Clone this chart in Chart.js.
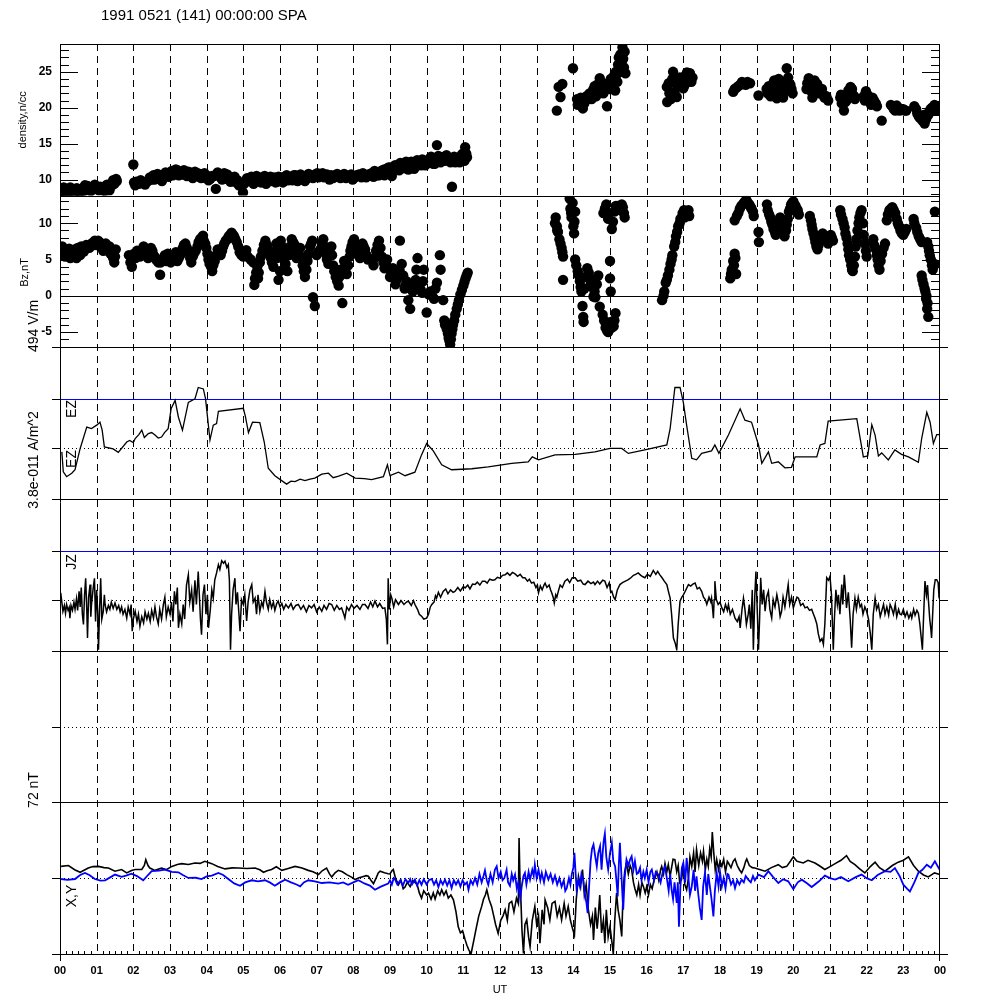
<!DOCTYPE html>
<html>
<head>
<meta charset="utf-8">
<script src="https://cdn.jsdelivr.net/npm/chart.js@4.4.1/dist/chart.umd.min.js"></script>
<style>
  html, body { margin: 0; padding: 0; background: #fff; }
  #wrap { width: 1000px; height: 1000px; }
</style>
</head>
<body>
<div id="wrap"><canvas id="spa" width="1000" height="1000"></canvas></div>
<script>
// Hour tick labels (UT) and panel tick values
var hourLabels = ['00','01','02','03','04','05','06','07','08','09','10','11','12',
                  '13','14','15','16','17','18','19','20','21','22','23','00'];
var densTicks = [10, 15, 20, 25];
var bzTicks = [-5, 0, 5, 10];

// density, n/cc (scatter)
var densHours = [0.05,0.10,0.15,0.20,0.28,0.35,0.42,0.50,0.55,0.62,0.68,0.75,0.80,0.88,0.95,1.02,1.10,1.18,1.25,1.32,1.38,1.45,1.50,1.55,
  2.00,2.02,2.08,2.15,2.25,2.32,2.40,2.50,2.55,2.62,2.70,2.78,2.85,2.92,3.00,3.05,3.12,3.20,3.28,3.35,3.42,3.50,3.58,3.65,3.72,3.80,3.90,3.98,4.05,4.15,4.25,4.30,4.38,4.45,4.52,4.60,4.65,4.72,4.80,4.88,4.99,5.05,5.10,5.18,5.25,5.32,5.40,5.48,5.55,5.62,5.70,5.78,5.85,5.92,
  6.00,6.08,6.15,6.22,6.30,6.38,6.45,6.52,6.60,6.68,6.75,6.82,6.90,6.98,7.05,7.12,7.20,7.28,7.35,7.45,7.52,7.60,7.70,7.80,7.90,7.98,8.05,8.15,8.22,8.30,8.40,8.50,8.58,8.65,8.72,8.80,8.85,8.92,
  9.00,9.05,9.10,9.18,9.25,9.32,9.40,9.48,9.55,9.62,9.70,9.78,9.85,9.92,10.00,10.08,10.15,10.22,10.28,10.35,10.42,10.50,10.58,10.65,10.69,10.75,10.82,10.90,10.95,11.00,11.05,11.08,11.10,
  13.55,13.60,13.65,13.70,13.99,14.10,14.15,14.20,14.26,14.32,14.40,14.48,14.54,14.60,14.65,14.70,14.72,14.78,14.85,14.92,14.95,15.02,15.08,15.14,15.18,15.22,15.26,15.28,15.32,15.34,15.38,15.42,
  16.55,16.56,16.62,16.72,16.78,16.82,16.90,16.94,17.00,17.06,17.12,17.18,17.25,
  18.36,18.45,18.55,18.65,18.75,18.82,19.05,19.27,19.33,19.38,19.45,19.50,19.55,19.60,19.65,19.72,19.78,19.82,19.86,19.92,19.98,
  20.38,20.42,20.48,20.52,20.58,20.62,20.70,20.78,20.85,20.95,21.28,21.32,21.38,21.45,21.50,21.56,21.62,21.68,21.92,21.98,
  22.05,22.12,22.20,22.28,22.41,22.66,22.74,22.82,22.90,23.00,23.08,23.30,23.38,23.45,23.52,23.58,23.64,23.70,23.78,23.85,23.90,
  // second layer of the dense bands
  0.02,0.08,0.12,0.18,0.24,0.32,0.38,0.46,0.52,0.58,0.65,0.72,0.78,0.84,0.92,0.98,1.06,1.14,1.22,1.28,1.35,1.42,1.48,1.53,
  2.05,2.20,2.35,2.45,2.58,2.66,2.74,2.82,2.88,2.96,3.08,3.16,3.24,3.32,3.38,3.46,3.54,3.62,3.68,3.76,3.85,3.94,4.02,4.10,4.20,4.34,4.42,4.48,4.56,4.62,4.68,4.76,4.84,4.94,
  5.02,5.14,5.22,5.28,5.36,5.44,5.52,5.58,5.66,5.74,5.82,5.88,5.96,6.04,6.12,6.18,6.26,6.34,6.42,6.48,6.56,6.64,6.72,6.78,6.86,6.94,
  7.02,7.08,7.16,7.24,7.32,7.40,7.50,7.56,7.65,7.75,7.85,7.94,8.02,8.10,8.18,8.26,8.35,8.45,8.55,8.62,8.70,8.76,8.84,8.90,8.96,
  9.02,9.08,9.14,9.22,9.28,9.36,9.44,9.50,9.58,9.66,9.74,9.80,9.88,9.96,10.04,10.12,10.18,10.26,10.32,10.38,10.46,10.54,10.62,10.72,10.78,10.86,10.98,11.03,
  14.12,14.22,14.30,14.36,14.44,14.50,14.58,14.62,14.68,14.75,14.82,14.88,14.98,15.05,15.10,15.16,15.20,15.24,15.30,15.36,15.40,
  16.60,16.66,16.70,16.76,16.86,16.98,17.04,17.10,17.16,17.22,
  18.40,18.50,18.60,18.70,19.30,19.42,19.48,19.58,19.68,19.75,19.88,19.95,20.36,20.45,20.50,20.56,20.65,20.74,20.82,20.90,
  21.30,21.42,21.48,21.54,21.60,21.66,21.95,22.02,22.10,22.16,22.25,22.70,22.78,22.86,22.95,23.04,
  23.35,23.42,23.50,23.56,23.62,23.68,23.74,23.82,23.88];
var densValues = [8.4,8.9,8.2,8.6,8.9,8.3,8.7,8.5,8.2,8.8,9.2,9.1,8.6,8.9,9.3,8.7,9.0,8.5,9.1,8.8,9.4,9.9,9.6,9.8,
  12.1,9.6,9.7,9.4,9.6,9.3,9.8,10.0,10.6,10.3,10.1,9.8,10.6,10.9,10.8,11.2,11.0,11.3,11.0,10.7,10.9,11.1,10.5,10.8,10.6,10.4,10.7,10.2,9.9,10.5,8.7,11.0,10.3,10.6,10.4,10.0,9.7,10.1,9.6,9.2,8.2,9.7,10.2,10.0,9.7,10.3,10.0,9.6,10.2,9.4,10.1,9.8,10.3,9.7,
  10.0,9.6,10.4,9.9,10.3,10.6,10.1,10.4,10.2,9.8,10.4,10.6,10.2,10.8,10.3,10.6,10.3,10.7,10.0,10.2,10.6,10.4,10.5,10.2,10.5,10.0,10.4,10.7,10.3,10.6,10.5,10.9,11.2,10.6,11.0,11.3,10.6,11.5,
  11.2,10.5,11.5,11.8,11.3,12.0,11.6,12.2,11.8,12.2,11.8,12.4,12.0,12.6,12.2,12.9,12.5,12.2,14.8,12.8,13.1,12.6,13.0,12.4,9.0,13.2,12.6,12.4,13.4,12.8,14.5,13.6,13.1,
  19.6,22.9,21.5,23.3,25.5,21.2,20.6,21.4,19.9,21.0,21.3,21.8,22.5,22.2,23.2,22.6,24.1,23.0,22.8,20.2,23.4,24.0,23.6,22.4,24.6,26.0,25.2,27.4,26.5,28.4,25.6,24.8,
  22.9,20.8,22.0,25.0,23.4,21.5,24.2,23.8,22.7,24.5,23.6,24.8,24.2,
  22.2,22.8,23.2,23.4,23.6,23.4,21.7,22.6,23.0,21.6,23.4,22.4,21.3,24.0,22.8,21.4,23.6,25.5,24.2,23.2,22.0,
  23.4,24.1,22.6,21.4,23.8,22.8,22.0,22.6,21.4,21.0,21.4,20.6,19.6,21.0,22.4,22.9,21.8,21.2,21.6,22.3,
  21.2,20.4,21.0,20.2,18.2,20.4,19.8,20.3,19.6,19.8,19.6,20.2,19.2,18.6,18.2,17.8,18.8,19.4,20.0,20.4,19.6,
  8.0,8.5,8.1,8.7,8.3,8.6,8.0,8.8,8.3,8.6,8.4,8.7,9.0,8.4,8.8,9.0,8.5,8.8,8.4,9.3,8.5,9.2,9.4,10.1,
  9.2,9.9,9.7,10.3,10.0,10.8,10.5,10.4,11.0,10.4,10.6,11.4,10.6,10.8,11.3,10.5,11.0,10.2,11.1,10.9,10.2,10.9,10.5,10.1,10.5,10.6,10.0,10.9,10.7,10.3,9.9,10.4,9.9,9.5,
  9.4,9.8,10.4,9.4,10.5,10.3,9.9,10.5,9.8,10.4,10.0,9.6,10.4,10.3,9.9,10.6,10.1,9.9,10.6,9.8,10.7,10.0,10.1,10.8,10.4,10.5,
  10.9,10.5,10.9,10.5,10.3,10.6,10.4,10.8,10.2,10.8,10.4,10.7,10.2,10.6,10.5,10.9,10.3,10.8,10.4,11.0,10.6,11.2,11.4,10.9,11.7,
  11.7,11.2,12.0,11.6,12.3,11.6,12.5,11.4,12.5,11.5,12.7,12.2,12.8,12.0,12.6,13.2,12.2,12.6,13.3,12.4,12.8,13.4,12.8,12.9,12.4,13.0,13.6,12.6,
  20.4,21.0,20.6,21.6,22.0,21.2,23.0,21.6,22.4,23.6,22.0,23.2,22.6,23.0,24.4,25.0,23.6,27.0,25.0,26.8,27.8,
  23.4,21.2,24.0,22.2,23.0,24.0,23.2,24.9,24.0,23.6,
  22.6,23.0,23.6,23.2,22.0,22.8,23.8,22.2,23.2,22.2,23.0,22.6,22.6,23.6,22.2,23.0,23.3,22.4,21.8,21.6,
  21.8,20.8,21.6,22.2,22.6,21.6,21.0,21.8,20.8,21.4,20.6,20.2,19.6,20.0,19.8,19.6,
  19.8,18.8,18.6,19.0,18.4,19.0,19.8,19.6,20.2];

// Bz, nT (scatter)
var bzHours = [0.03,0.10,0.18,0.25,0.32,0.40,0.45,0.52,0.58,0.65,0.72,0.80,0.88,0.95,1.00,1.08,1.15,1.20,1.28,1.35,1.42,1.48,1.52,
  1.88,1.92,1.96,2.02,2.10,2.18,2.25,2.32,2.40,2.48,2.55,2.62,2.73,2.75,2.82,2.90,2.98,3.05,3.12,3.20,3.28,3.35,3.42,3.50,3.58,3.65,3.75,3.82,3.90,3.96,
  4.02,4.08,4.15,4.22,4.30,4.38,4.45,4.52,4.60,4.68,4.75,4.82,4.90,5.00,5.08,5.27,5.30,5.35,5.40,5.45,5.52,5.60,5.68,5.75,5.82,5.90,5.96,6.00,
  6.02,6.08,6.15,6.20,6.25,6.32,6.40,6.45,6.55,6.62,6.68,6.75,6.82,6.88,6.90,6.95,7.00,7.10,7.18,7.25,7.32,7.40,7.45,7.52,7.60,7.65,7.70,7.75,7.82,7.90,7.95,
  8.02,8.10,8.18,8.25,8.32,8.40,8.55,8.62,8.70,8.78,8.85,8.92,9.00,9.08,9.15,9.22,9.27,9.32,9.40,9.45,9.50,9.55,9.62,9.70,9.75,9.80,9.88,9.92,
  10.00,10.10,10.20,10.28,10.36,10.38,10.45,10.48,10.55,10.60,10.64,10.68,10.72,10.78,10.85,10.92,11.00,11.06,11.12,
  13.52,13.55,13.58,13.65,13.70,13.72,13.72,13.90,13.92,13.95,14.00,14.02,14.05,14.05,14.12,14.18,14.22,14.25,14.27,14.30,14.38,14.45,14.52,14.55,14.60,14.68,
  14.80,14.82,14.88,14.90,14.95,14.95,15.00,15.00,15.02,15.02,15.05,15.10,15.12,15.15,15.20,15.28,15.35,15.40,
  16.42,16.48,16.52,16.58,16.65,16.70,16.75,16.80,16.86,16.92,16.98,17.04,17.10,17.16,
  18.28,18.32,18.36,18.40,18.44,18.40,18.50,18.58,18.65,18.72,18.80,18.86,18.92,19.05,19.06,
  19.28,19.34,19.40,19.46,19.52,19.58,19.64,19.70,19.76,19.82,19.88,19.94,20.00,20.06,20.12,
  20.45,20.50,20.55,20.60,20.66,20.72,20.80,20.88,20.95,21.02,21.08,
  21.28,21.34,21.40,21.45,21.50,21.55,21.60,21.65,21.70,21.75,21.80,21.86,21.92,21.98,
  22.18,22.25,22.30,22.35,22.42,22.50,22.55,22.62,22.70,22.78,22.85,22.92,23.00,23.08,
  23.28,23.35,23.42,23.50,23.65,23.70,23.75,23.80,23.85,23.50,23.55,23.60,23.62,23.65,23.68,23.86,
  // second layer of the dense bands
  0.06,0.14,0.22,0.28,0.36,0.48,0.55,0.62,0.68,0.76,0.84,0.92,1.04,1.12,1.18,1.25,1.32,1.38,1.45,1.50,
  2.06,2.14,2.22,2.28,2.36,2.44,2.52,2.58,2.68,2.86,2.94,3.02,3.10,3.16,3.24,3.32,3.38,3.46,3.55,3.62,3.70,3.78,3.86,3.92,3.99,
  4.05,4.12,4.18,4.26,4.34,4.42,4.48,4.56,4.64,4.72,4.78,4.86,4.95,5.04,5.12,5.20,5.32,5.38,5.42,5.48,5.56,5.64,5.72,5.78,5.86,5.92,
  6.05,6.12,6.28,6.36,6.42,6.50,6.58,6.65,6.72,6.78,6.85,7.04,7.14,7.22,7.28,7.36,7.42,7.48,7.56,7.62,7.78,7.86,7.92,7.98,
  8.06,8.14,8.22,8.28,8.36,8.58,8.66,8.74,8.82,8.88,8.96,9.04,9.12,9.18,9.26,9.36,9.42,9.66,9.72,9.84,9.90,
  10.05,10.15,10.24,10.50,10.58,10.62,10.66,10.70,10.75,10.82,10.88,10.96,11.03,11.09,
  13.50,13.56,13.62,13.68,13.94,13.98,14.03,14.08,14.15,14.20,14.28,14.34,14.42,14.48,14.58,14.64,14.72,14.84,14.86,14.92,14.98,15.04,15.08,15.16,15.24,15.32,15.38,15.12,
  16.46,16.55,16.62,16.68,16.78,16.83,16.90,16.96,17.02,17.08,17.14,
  18.30,18.38,18.42,18.46,18.54,18.62,18.68,18.76,18.84,18.90,
  19.30,19.37,19.43,19.50,19.55,19.62,19.67,19.73,19.80,19.85,19.91,19.97,20.03,20.09,20.15,
  20.48,20.52,20.58,20.63,20.69,20.76,20.84,20.92,20.98,21.05,
  21.30,21.37,21.42,21.48,21.52,21.58,21.62,21.68,21.72,21.78,21.83,21.90,21.95,22.00,
  22.20,22.28,22.32,22.38,22.46,22.58,22.66,22.74,22.82,22.88,22.96,23.04,
  23.30,23.38,23.46,23.68,23.72,23.78,23.82,23.52,23.58,23.63,23.66];
var bzValues = [5.8,6.3,5.6,6.5,5.9,6.4,5.2,6.2,6.8,6.1,7.0,6.6,7.3,7.6,7.0,7.4,6.6,6.9,6.3,6.8,5.6,4.6,6.4,
  5.6,4.6,4.0,5.8,6.2,5.4,6.4,6.0,5.2,6.6,5.6,5.0,2.9,4.6,5.2,4.8,5.4,5.0,5.6,4.8,5.6,6.6,7.2,6.0,4.6,5.8,6.8,7.8,8.3,7.2,
  5.8,4.4,3.4,4.8,6.4,5.6,6.8,7.6,8.2,8.7,8.2,7.4,6.0,5.4,6.3,4.6,1.5,3.2,2.4,4.6,6.2,7.6,6.4,5.2,4.0,7.2,2.2,3.4,
  7.6,6.0,4.4,3.4,5.6,7.8,7.0,5.2,6.6,4.2,2.6,4.8,6.8,7.6,-0.2,-1.4,5.6,6.4,7.8,5.8,4.4,6.8,4.2,2.6,1.4,3.6,-1.0,4.8,3.0,5.4,6.8,
  7.8,6.0,5.2,7.2,6.4,5.0,4.2,6.2,7.6,5.4,3.8,5.0,2.6,3.8,1.6,2.8,7.6,4.4,1.0,2.0,-0.6,-1.8,0.6,2.2,5.2,1.2,0.4,3.6,
  -2.3,0.6,-0.4,1.8,5.6,3.6,-0.6,-3.4,-4.6,-5.8,-6.7,-5.2,-4.0,-2.6,-1.2,0.2,1.4,2.4,3.2,
  10.8,9.6,8.8,7.2,6.0,5.4,2.2,13.4,12.0,10.8,9.6,8.6,11.6,5.0,3.4,2.0,0.6,-1.4,-2.9,1.0,3.8,2.4,1.2,-0.1,-0.2,2.8,
  -2.6,11.4,-4.4,12.6,-5.0,10.6,4.8,2.4,0.6,-3.6,9.2,-4.2,11.6,-2.4,12.4,11.8,12.2,10.8,
  -0.6,0.6,1.8,2.8,4.4,5.6,6.8,8.2,9.6,10.6,11.4,10.8,11.6,11.0,
  2.4,3.6,4.8,5.8,3.0,10.4,11.4,12.4,12.8,13.2,12.6,12.0,11.0,8.8,7.4,
  12.6,11.2,10.2,9.2,8.4,9.6,10.8,9.0,8.2,9.8,11.6,12.6,13.0,12.4,11.8,
  11.0,9.8,8.6,7.4,6.4,7.6,8.6,8.0,7.2,8.4,7.6,
  11.8,10.6,9.4,8.0,6.4,5.0,3.6,4.2,6.8,9.0,10.8,11.8,8.4,6.2,
  7.8,6.4,5.0,3.6,5.8,7.2,10.4,11.8,12.2,11.4,10.0,9.0,8.4,9.2,
  10.6,9.4,8.2,7.4,7.4,6.2,5.0,3.6,4.4,2.8,1.6,0.6,-0.4,-1.8,-2.9,11.6,
  6.8,5.4,6.0,5.2,6.0,6.6,5.6,6.6,6.4,6.8,7.0,7.0,7.6,7.0,6.2,7.2,6.2,5.8,5.2,5.4,
  5.2,5.8,5.8,6.8,5.6,6.0,6.2,5.4,4.6,5.6,5.8,4.6,5.2,6.0,5.2,6.2,7.0,6.6,5.2,5.4,6.2,7.4,8.0,7.6,6.6,
  5.0,4.0,4.2,5.6,6.0,6.2,7.2,7.8,8.4,8.4,7.8,6.8,5.6,6.0,5.4,5.0,2.4,4.0,3.2,5.4,7.0,7.0,5.8,4.6,6.0,5.2,
  6.8,5.2,6.8,7.4,6.2,5.8,5.4,3.4,3.6,5.8,7.2,6.0,7.2,6.8,5.0,5.6,5.6,3.4,2.0,2.6,4.0,4.2,6.2,7.4,
  7.0,5.6,6.2,6.8,5.6,5.2,7.0,6.6,4.6,4.4,3.8,3.2,2.8,2.2,3.6,2.8,1.4,1.4,3.6,0.8,2.0,
  0.2,0.0,1.0,-4.0,-5.2,-6.2,-6.0,-4.6,-3.4,-1.8,-0.6,0.8,1.9,2.8,
  10.0,9.0,7.8,6.6,11.4,12.8,10.2,4.2,2.8,1.2,-3.6,2.6,3.2,1.8,0.6,1.6,-1.5,-3.4,12.0,-4.8,11.4,-4.4,10.2,12.4,12.0,12.6,11.4,-3.4,
  0.0,2.2,3.6,5.0,7.4,8.8,10.0,10.8,11.8,11.2,11.8,
  3.0,4.2,5.2,11.0,12.0,12.6,13.0,12.8,12.2,11.6,
  11.8,10.8,9.8,8.8,9.0,10.2,10.0,8.6,9.0,10.6,12.0,12.8,12.6,12.0,11.2,
  10.4,9.2,8.0,6.8,7.0,8.2,8.2,7.6,7.8,8.0,
  11.2,10.0,8.6,7.2,5.6,4.2,3.4,5.4,7.8,10.0,11.4,10.0,7.2,5.4,
  7.0,5.6,4.2,4.8,6.6,11.2,12.0,11.8,10.6,9.6,8.6,8.8,
  10.0,8.8,7.8,6.8,5.6,4.2,4.0,2.2,1.0,0.0,-1.0];

// EZ (line), [UT hour, value]
var ezSamples = [[0.05,-0.07],[0.09,-0.47],[0.18,-0.57],[0.32,-0.50],[0.41,-0.43],[0.55,0.00],[0.73,0.43],[0.86,0.40],[1.00,0.47],[1.09,0.53],[1.15,0.37],[1.21,0.03],
  [1.45,-0.01],[1.59,-0.08],[1.82,0.13],[1.90,0.16],[2.00,0.12],[2.05,0.20],[2.15,0.28],[2.23,0.37],[2.30,0.22],[2.41,0.30],[2.50,0.32],[2.59,0.27],[2.68,0.21],[2.77,0.23],[2.85,0.32],[2.95,0.40],
  [3.03,0.80],[3.14,0.97],[3.23,0.63],[3.34,0.37],[3.50,0.93],[3.68,1.00],[3.77,1.23],[3.91,1.20],[3.97,1.00],[4.09,0.17],[4.18,0.47],[4.27,0.50],[4.32,0.75],[5.00,0.81],
  [5.06,0.63],[5.14,0.32],[5.25,0.53],[5.45,0.52],[5.57,0.13],[5.68,-0.40],[5.86,-0.55],[6.18,-0.72],[6.30,-0.66],[6.41,-0.67],[6.55,-0.62],[6.68,-0.65],[6.82,-0.62],[6.95,-0.60],
  [7.14,-0.52],[7.32,-0.50],[7.45,-0.59],[7.60,-0.56],[7.82,-0.50],[8.05,-0.60],[8.30,-0.61],[8.50,-0.63],[8.82,-0.57],[8.93,-0.33],[9.00,-0.55],[9.23,-0.48],[9.41,-0.55],[9.68,-0.48],
  [9.86,-0.13],[10.00,0.10],[10.18,-0.05],[10.41,-0.33],[10.68,-0.43],[11.23,-0.41],[11.68,-0.37],[12.32,-0.30],[12.77,-0.27],[12.88,-0.17],[13.05,-0.23],[13.50,-0.13],
  [14.05,-0.12],[14.59,-0.07],[15.00,0.00],[15.32,0.00],[15.50,-0.10],[15.95,-0.03],[16.55,0.07],[16.64,0.40],[16.77,1.23],[16.91,1.23],[17.00,0.93],[17.09,0.47],
  [17.23,-0.20],[17.36,-0.23],[17.50,-0.10],[17.77,-0.05],[17.86,0.07],[17.97,-0.10],[18.23,0.27],[18.55,0.80],[18.68,0.57],[18.86,0.53],[19.05,0.07],[19.14,-0.30],
  [19.32,-0.07],[19.41,-0.30],[19.59,-0.27],[19.77,-0.39],[19.95,-0.38],[20.05,-0.17],[20.32,-0.17],[20.64,-0.17],[20.73,0.07],[20.86,0.10],[20.95,0.55],[21.73,0.60],
  [21.91,-0.17],[22.03,-0.15],[22.14,0.48],[22.23,0.27],[22.32,-0.15],[22.41,-0.09],[22.59,-0.23],[22.77,-0.03],[22.95,-0.12],[23.14,-0.17],[23.41,-0.28],[23.50,0.20],
  [23.64,0.73],[23.73,0.53],[23.82,0.10],[23.91,0.28],[24.00,0.28]];

// JZ (line), [UT hour, value]
var jzSamples = [[0.02,0.14],[0.05,-0.05],[0.08,-0.24],[0.12,-0.12],[0.15,-0.28],[0.18,-0.10],[0.22,-0.22],[0.25,-0.16],[0.27,-0.38],[0.30,-0.12],[0.34,-0.22],[0.38,-0.05],
  [0.41,-0.20],[0.45,0.02],[0.48,-0.22],[0.52,0.17],[0.55,-0.15],[0.58,0.25],[0.61,-0.30],[0.64,-0.51],[0.67,0.10],[0.70,0.44],[0.73,-0.20],[0.75,-0.79],[0.78,0.05],
  [0.82,0.31],[0.84,-0.35],[0.86,-0.10],[0.90,0.20],[0.94,0.44],[0.97,-0.45],[1.00,0.20],[1.03,-0.30],[1.05,-1.03],[1.08,-0.20],[1.11,0.44],[1.14,-0.40],[1.18,-0.24],
  [1.21,0.10],[1.23,-0.10],[1.27,-0.25],[1.32,-0.12],[1.36,-0.20],[1.40,-0.05],[1.45,-0.18],[1.50,-0.07],[1.55,-0.20],[1.60,-0.12],[1.64,-0.25],[1.68,-0.15],[1.72,-0.30],
  [1.77,-0.20],[1.82,-0.38],[1.86,-0.15],[1.91,-0.30],[1.94,-0.10],[1.97,-0.65],[2.00,-0.40],[2.05,-0.24],[2.10,-0.45],[2.14,-0.30],[2.18,-0.55],[2.23,-0.35],[2.28,-0.48],
  [2.32,-0.25],[2.37,-0.40],[2.41,-0.28],[2.46,-0.45],[2.50,-0.22],[2.55,-0.38],[2.59,-0.15],[2.63,-0.35],[2.68,-0.50],[2.72,-0.20],[2.77,-0.40],[2.82,-0.10],[2.86,0.05],
  [2.90,-0.35],[2.95,-0.15],[3.00,-0.30],[3.04,-0.05],[3.08,-0.45],[3.12,0.17],[3.16,-0.10],[3.20,0.25],[3.23,-0.58],[3.27,-0.30],[3.32,-0.50],[3.36,-0.10],[3.40,-0.40],
  [3.45,0.30],[3.50,0.51],[3.54,-0.05],[3.59,0.20],[3.63,-0.25],[3.68,0.40],[3.72,-0.10],[3.77,0.58],[3.80,0.10],[3.83,-0.40],[3.86,-0.72],[3.90,0.10],[3.94,0.31],
  [3.98,-0.30],[4.02,0.10],[4.05,-0.58],[4.10,-0.20],[4.14,0.20],[4.18,0.03],[4.22,0.40],[4.27,0.55],[4.32,0.72],[4.36,0.62],[4.41,0.80],[4.46,0.75],[4.50,0.79],
  [4.55,0.66],[4.59,0.72],[4.62,0.40],[4.65,-1.03],[4.68,-0.30],[4.72,0.20],[4.77,0.44],[4.80,-0.10],[4.84,0.15],[4.88,-0.30],[4.91,-0.65],[4.95,0.00],[5.00,-0.10],
  [5.04,0.10],[5.09,-0.44],[5.13,-0.05],[5.18,0.20],[5.23,0.31],[5.27,-0.05],[5.32,0.03],[5.36,-0.30],[5.40,0.10],[5.45,-0.24],[5.50,-0.05],[5.54,-0.15],[5.59,0.17],
  [5.63,-0.05],[5.68,-0.20],[5.72,0.00],[5.77,-0.17],[5.82,-0.05],[5.86,-0.22],[5.91,-0.08],[5.95,-0.03],[6.00,-0.15],[6.05,-0.08],[6.10,-0.20],[6.16,-0.10],[6.23,-0.17],
  [6.30,-0.08],[6.36,-0.20],[6.43,-0.12],[6.50,-0.10],[6.57,-0.20],[6.64,-0.12],[6.72,-0.25],[6.79,-0.12],[6.86,-0.17],[6.93,-0.10],[7.00,-0.25],[7.07,-0.15],[7.14,-0.24],
  [7.20,-0.12],[7.27,-0.20],[7.34,-0.08],[7.41,-0.10],[7.48,-0.22],[7.55,-0.12],[7.62,-0.20],[7.68,-0.17],[7.74,-0.30],[7.77,-0.38],[7.82,-0.15],[7.88,-0.22],[7.95,-0.10],
  [8.02,-0.18],[8.10,-0.12],[8.18,-0.20],[8.25,-0.10],[8.32,-0.10],[8.40,-0.18],[8.47,-0.05],[8.53,-0.15],[8.59,-0.03],[8.66,-0.15],[8.72,-0.08],[8.80,-0.18],[8.86,-0.17],
  [8.90,-0.40],[8.93,-0.92],[8.95,0.44],[8.98,-0.20],[9.02,0.10],[9.05,0.03],[9.10,-0.15],[9.15,0.00],[9.23,-0.10],[9.30,-0.02],[9.38,-0.10],[9.45,-0.05],[9.50,-0.03],
  [9.58,-0.12],[9.64,-0.02],[9.68,-0.10],[9.75,-0.20],[9.80,-0.30],[9.86,-0.34],[9.92,-0.40],[10.00,-0.38],[10.05,-0.30],[10.10,-0.15],[10.14,-0.10],[10.20,-0.05],
  [10.24,0.08],[10.27,0.03],[10.32,0.15],[10.38,0.05],[10.45,0.17],[10.52,0.22],[10.58,0.12],[10.65,0.20],[10.72,0.15],[10.77,0.17],[10.85,0.25],[10.92,0.18],[11.00,0.27],
  [11.05,0.24],[11.12,0.30],[11.18,0.22],[11.25,0.32],[11.32,0.31],[11.38,0.36],[11.45,0.30],[11.52,0.38],[11.59,0.38],[11.65,0.34],[11.72,0.42],[11.80,0.40],[11.86,0.41],
  [11.93,0.46],[12.00,0.44],[12.07,0.50],[12.14,0.51],[12.20,0.55],[12.27,0.50],[12.34,0.56],[12.41,0.53],[12.48,0.48],[12.55,0.52],[12.62,0.45],[12.68,0.45],[12.75,0.38],
  [12.80,0.42],[12.86,0.34],[12.92,0.36],[12.98,0.25],[13.02,0.30],[13.05,0.14],[13.10,0.28],[13.15,0.20],[13.20,0.30],[13.23,0.34],[13.28,0.25],[13.34,0.30],[13.38,0.20],
  [13.41,0.14],[13.45,0.05],[13.48,-0.07],[13.52,0.10],[13.55,0.05],[13.59,0.17],[13.64,0.30],[13.70,0.25],[13.77,0.38],[13.84,0.42],[13.90,0.35],[13.97,0.45],[14.05,0.45],
  [14.12,0.38],[14.20,0.40],[14.27,0.32],[14.32,0.31],[14.40,0.38],[14.48,0.33],[14.55,0.36],[14.59,0.31],[14.66,0.38],[14.72,0.32],[14.80,0.40],[14.86,0.38],[14.92,0.25],
  [14.98,0.35],[15.02,0.15],[15.05,0.17],[15.10,0.05],[15.14,0.00],[15.20,0.20],[15.27,0.31],[15.34,0.35],[15.42,0.38],[15.50,0.41],[15.57,0.45],[15.64,0.50],[15.70,0.52],
  [15.77,0.55],[15.84,0.50],[15.90,0.47],[15.95,0.45],[16.02,0.52],[16.10,0.48],[16.18,0.60],[16.25,0.52],[16.30,0.58],[16.36,0.51],[16.42,0.45],[16.48,0.38],[16.55,0.31],
  [16.60,0.15],[16.64,0.03],[16.68,-0.30],[16.73,-0.79],[16.78,-0.90],[16.82,-1.03],[16.86,-0.50],[16.91,-0.03],[16.96,0.05],[17.00,0.10],[17.05,0.17],[17.10,0.25],
  [17.14,0.31],[17.20,0.28],[17.26,0.32],[17.32,0.34],[17.38,0.22],[17.44,0.25],[17.50,0.17],[17.55,0.05],[17.60,0.00],[17.64,-0.10],[17.70,0.05],[17.75,-0.05],
  [17.77,0.03],[17.80,-0.20],[17.82,-0.38],[17.84,0.00],[17.86,0.38],[17.90,0.00],[17.95,-0.10],[18.00,-0.05],[18.05,-0.17],[18.10,-0.25],[18.15,-0.10],[18.20,-0.22],
  [18.23,-0.10],[18.28,-0.30],[18.34,-0.20],[18.41,-0.38],[18.47,-0.45],[18.52,-0.35],[18.55,-0.58],[18.60,-0.20],[18.64,0.03],[18.68,-0.20],[18.72,-0.51],[18.77,-0.30],
  [18.80,-0.10],[18.84,-0.60],[18.88,0.20],[18.91,-1.03],[18.95,0.10],[18.98,0.58],[19.02,-0.30],[19.05,-1.03],[19.08,-0.40],[19.11,0.45],[19.15,-0.10],[19.19,0.20],
  [19.23,-0.24],[19.27,0.05],[19.32,0.17],[19.36,-0.20],[19.41,-0.38],[19.45,0.00],[19.50,-0.15],[19.55,0.10],[19.60,-0.10],[19.64,-0.35],[19.68,-0.24],[19.72,0.05],
  [19.77,-0.15],[19.82,0.10],[19.86,0.31],[19.90,-0.10],[19.95,0.05],[20.00,-0.17],[20.05,-0.05],[20.10,0.05],[20.14,0.03],[20.20,-0.12],[20.26,-0.08],[20.32,-0.17],
  [20.38,-0.15],[20.44,-0.22],[20.50,-0.20],[20.55,-0.30],[20.59,-0.38],[20.64,-0.50],[20.68,-0.70],[20.73,-0.86],[20.78,-0.80],[20.82,-0.92],[20.86,-0.50],[20.91,0.45],
  [20.96,0.40],[21.00,0.48],[21.04,0.10],[21.07,-0.60],[21.09,-1.03],[21.12,-0.40],[21.16,0.20],[21.20,-0.10],[21.23,0.10],[21.27,-0.30],[21.32,0.31],[21.35,-0.10],
  [21.39,0.51],[21.42,0.20],[21.45,-0.17],[21.50,0.15],[21.55,-0.40],[21.59,-0.99],[21.63,-0.30],[21.68,0.03],[21.72,-0.20],[21.77,0.05],[21.82,-0.15],[21.86,-0.10],
  [21.90,-0.30],[21.95,-0.15],[22.00,-0.24],[22.05,-0.40],[22.10,-0.70],[22.14,-1.03],[22.18,-0.30],[22.23,0.03],[22.27,-0.20],[22.32,-0.10],[22.37,-0.35],[22.41,-0.24],
  [22.46,-0.10],[22.50,-0.30],[22.55,-0.15],[22.60,-0.32],[22.64,-0.10],[22.68,-0.17],[22.73,-0.30],[22.78,-0.10],[22.82,-0.35],[22.87,-0.20],[22.91,-0.30],[22.95,-0.31],
  [23.00,-0.20],[23.05,-0.35],[23.10,-0.25],[23.15,-0.38],[23.20,-0.28],[23.23,-0.38],[23.28,-0.20],[23.32,-0.32],[23.37,-0.22],[23.41,-0.28],[23.45,-0.50],[23.49,-0.80],
  [23.52,-1.03],[23.55,-0.40],[23.59,0.38],[23.63,0.10],[23.66,0.30],[23.68,0.03],[23.72,-0.40],[23.75,-0.60],[23.77,-0.79],[23.80,-0.30],[23.83,0.20],[23.87,0.41],
  [23.91,0.41],[23.95,0.35],[23.97,0.10],[24.00,0.17]];

// X component, nT (black line), [UT hour, value]
var bxSamples = [[0.03,5.6],[0.23,6.0],[0.40,4.0],[0.55,2.8],[0.77,4.8],[0.90,5.5],[1.05,5.6],[1.20,5.0],[1.32,4.8],[1.50,3.3],[1.68,4.1],[1.82,2.5],[1.95,3.6],[2.05,4.1],
  [2.23,4.1],[2.30,6.0],[2.34,8.8],[2.40,6.0],[2.45,4.8],[2.59,3.7],[2.77,4.8],[2.90,4.0],[3.05,5.6],[3.20,6.5],[3.32,6.9],[3.50,6.5],[3.68,7.2],[3.82,7.0],[3.95,8.0],
  [4.14,6.9],[4.30,5.5],[4.50,4.4],[4.70,4.9],[4.86,4.8],[5.10,4.6],[5.32,4.8],[5.45,4.0],[5.55,2.8],[5.65,3.5],[5.77,4.1],[5.90,5.4],[6.05,3.7],[6.20,4.5],[6.41,5.6],
  [6.60,4.8],[6.77,3.7],[6.90,3.0],[7.05,1.7],[7.15,3.5],[7.27,4.8],[7.35,2.0],[7.41,0.6],[7.50,2.5],[7.59,3.7],[7.70,3.0],[7.82,1.7],[7.95,0.5],[8.05,-0.7],[8.15,0.2],
  [8.23,0.6],[8.35,1.2],[8.41,0.9],[8.48,-1.0],[8.55,-2.6],[8.62,0.0],[8.68,2.5],[8.73,3.3],[8.85,2.6],[8.95,2.1],[9.00,2.0],[9.05,3.5],[9.09,4.1],[9.15,0.0],[9.20,-2.0],
  [9.23,-3.1],[9.30,-1.0],[9.36,-5.0],[9.41,-4.2],[9.47,-2.0],[9.55,-4.0],[9.62,-1.0],[9.68,-2.0],[9.74,-3.0],[9.80,-7.0],[9.86,-9.5],[9.92,-6.0],[10.00,-8.0],[10.05,-7.1],
  [10.12,-10.0],[10.18,-7.0],[10.23,-9.9],[10.30,-6.0],[10.36,-8.0],[10.41,-5.5],[10.47,-8.0],[10.53,-6.0],[10.59,-9.5],[10.66,-8.0],[10.73,-10.3],[10.80,-16.0],[10.86,-23.0],
  [10.92,-26.0],[10.98,-25.0],[11.05,-29.3],[11.10,-32.0],[11.15,-34.0],[11.21,-36.0],[11.28,-30.0],[11.36,-23.0],[11.42,-18.0],[11.50,-13.4],[11.55,-10.0],[11.60,-8.0],
  [11.64,-5.5],[11.70,-10.0],[11.77,-13.4],[11.83,-18.0],[11.88,-22.0],[11.95,-26.2],[12.02,-20.0],[12.08,-18.0],[12.14,-15.0],[12.20,-20.0],[12.25,-12.0],[12.32,-11.0],
  [12.38,-16.0],[12.45,-9.5],[12.50,-12.0],[12.52,19.1],[12.55,-5.0],[12.57,-10.3],[12.60,-25.0],[12.64,-35.7],[12.68,-22.0],[12.73,-19.8],[12.78,-28.0],[12.82,-32.5],
  [12.88,-20.0],[12.95,-13.4],[13.00,-22.0],[13.05,-18.0],[13.09,-30.9],[13.15,-15.0],[13.20,-22.0],[13.23,-10.3],[13.30,-14.0],[13.36,-19.8],[13.42,-12.0],[13.50,-11.0],
  [13.56,-18.0],[13.62,-14.0],[13.68,-19.8],[13.75,-12.0],[13.80,-18.0],[13.86,-13.4],[13.92,-20.0],[13.98,-24.0],[14.03,-27.0],[14.08,-10.0],[14.14,0.9],[14.20,-4.0],
  [14.25,4.1],[14.30,-8.0],[14.35,-3.0],[14.41,-15.0],[14.47,-22.0],[14.52,-18.0],[14.55,-29.3],[14.60,-14.0],[14.65,-24.0],[14.68,-18.2],[14.72,-8.0],[14.77,-26.0],
  [14.82,-20.0],[14.86,-30.9],[14.90,-15.0],[14.95,-28.0],[15.00,-23.0],[15.05,-30.0],[15.09,-36.0],[15.13,-20.0],[15.18,-7.1],[15.22,-15.0],[15.27,-20.0],[15.32,-27.7],
  [15.36,-5.0],[15.40,3.0],[15.45,7.2],[15.50,2.0],[15.55,6.0],[15.59,4.1],[15.64,-2.0],[15.68,-5.0],[15.73,-7.9],[15.78,-3.0],[15.82,-8.0],[15.87,-2.0],[15.91,-3.9],
  [15.96,-7.0],[16.00,-4.0],[16.05,-7.9],[16.10,-3.0],[16.15,-5.0],[16.20,-1.0],[16.23,0.1],[16.28,3.0],[16.33,-1.0],[16.38,4.0],[16.41,5.6],[16.46,2.0],[16.50,7.0],
  [16.55,3.0],[16.59,6.4],[16.64,1.0],[16.68,5.0],[16.72,9.0],[16.77,8.8],[16.82,3.0],[16.86,6.0],[16.90,-2.0],[16.95,-0.7],[17.00,6.0],[17.04,-3.0],[17.09,-5.5],
  [17.14,0.0],[17.18,10.0],[17.23,5.6],[17.28,12.0],[17.32,3.0],[17.36,13.6],[17.42,6.0],[17.47,12.0],[17.52,8.0],[17.55,12.8],[17.60,4.0],[17.64,9.0],[17.68,5.6],
  [17.72,14.0],[17.76,10.0],[17.79,21.9],[17.83,12.0],[17.87,4.0],[17.91,8.8],[17.96,4.0],[18.00,8.0],[18.05,5.6],[18.10,9.0],[18.15,3.0],[18.20,8.0],[18.23,7.2],
  [18.30,5.0],[18.36,8.0],[18.41,9.1],[18.47,6.0],[18.53,4.0],[18.59,2.5],[18.65,5.0],[18.70,8.0],[18.73,9.1],[18.80,6.0],[18.88,5.0],[18.95,4.8],[19.10,4.0],[19.23,3.3],
  [19.40,5.0],[19.59,6.4],[19.70,5.0],[19.82,5.6],[19.92,8.0],[20.00,10.1],[20.10,8.0],[20.27,7.2],[20.40,8.5],[20.59,7.2],[20.70,6.0],[20.86,4.1],[21.00,5.5],[21.14,6.9],
  [21.30,8.5],[21.45,10.7],[21.55,8.0],[21.68,6.4],[21.80,4.5],[21.95,2.5],[22.10,5.5],[22.23,7.6],[22.35,5.0],[22.50,3.3],[22.70,6.0],[22.86,7.6],[23.00,8.5],[23.14,10.1],
  [23.28,6.0],[23.41,3.3],[23.55,1.5],[23.68,0.6],[23.85,2.5],[24.00,1.7]];

// Y component, nT (blue line), [UT hour, value]
var bySamples = [[0.03,-0.4],[0.20,-0.8],[0.41,-0.4],[0.55,1.5],[0.68,2.5],[0.80,1.5],[0.95,-0.4],[1.10,-1.2],[1.23,-1.0],[1.38,0.5],[1.50,1.7],[1.68,0.6],[1.80,1.2],
  [1.95,2.1],[2.10,1.0],[2.27,-1.0],[2.40,1.5],[2.50,3.3],[2.70,3.6],[2.86,4.1],[3.05,3.0],[3.23,2.8],[3.35,1.5],[3.50,0.1],[3.70,0.2],[3.86,-0.4],[4.00,0.8],[4.14,1.2],
  [4.32,2.5],[4.45,1.5],[4.59,-0.4],[4.75,-2.5],[4.91,-3.6],[5.05,-2.0],[5.23,-1.0],[5.40,-1.5],[5.59,-1.0],[5.72,-2.0],[5.86,-3.6],[6.00,-2.0],[6.14,-0.7],[6.30,-2.0],
  [6.45,-3.0],[6.55,-3.9],[6.65,-2.0],[6.77,-1.0],[6.95,-1.5],[7.14,-2.3],[7.35,-2.0],[7.59,-2.6],[7.72,-2.0],[7.86,-3.1],[8.00,-2.0],[8.14,-1.0],[8.30,-2.5],[8.45,-3.5],
  [8.59,-5.5],[8.75,-4.0],[8.95,-2.6],[9.00,-1.0],[9.05,-3.0],[9.10,0.0],[9.14,-0.7],[9.20,-3.0],[9.28,-1.0],[9.35,-3.5],[9.42,-0.5],[9.50,-2.3],[9.55,-0.5],[9.60,-3.0],
  [9.68,-0.7],[9.74,-3.5],[9.80,-1.0],[9.86,-3.1],[9.92,-0.5],[10.00,-3.0],[10.06,-1.0],[10.14,-0.4],[10.20,-3.0],[10.26,-1.0],[10.32,-4.2],[10.38,-1.0],[10.44,-3.0],
  [10.50,-0.7],[10.56,-3.5],[10.62,-1.0],[10.68,-4.7],[10.74,-1.0],[10.80,-3.0],[10.86,-1.0],[10.92,-4.0],[10.98,-1.0],[11.04,-3.0],[11.10,-2.0],[11.14,-5.5],[11.20,-1.0],
  [11.26,-3.0],[11.32,0.1],[11.38,-3.0],[11.44,2.0],[11.50,-2.0],[11.55,1.0],[11.59,3.7],[11.64,-1.0],[11.68,-3.1],[11.74,2.0],[11.80,-2.0],[11.86,4.0],[11.91,5.6],
  [11.96,0.0],[12.02,3.0],[12.07,-1.0],[12.12,0.1],[12.18,4.0],[12.22,-2.0],[12.27,-3.6],[12.32,2.0],[12.36,-1.0],[12.41,1.7],[12.46,-5.0],[12.50,-2.0],[12.55,-9.5],
  [12.60,-3.0],[12.64,1.0],[12.68,2.5],[12.72,-3.0],[12.78,3.0],[12.82,-0.7],[12.88,4.0],[12.92,1.0],[12.95,6.4],[13.00,0.0],[13.05,4.0],[13.10,-1.0],[13.14,2.5],
  [13.20,-2.0],[13.25,3.0],[13.32,-0.7],[13.38,2.0],[13.44,-2.0],[13.50,1.2],[13.56,-3.0],[13.62,0.0],[13.68,-4.0],[13.74,-1.0],[13.78,-6.0],[13.82,-4.7],[13.88,0.0],
  [13.92,-3.0],[13.96,2.0],[14.00,5.0],[14.03,12.0],[14.06,3.0],[14.09,-5.5],[14.14,-1.0],[14.18,-4.0],[14.22,2.0],[14.27,-0.7],[14.32,-8.0],[14.36,-12.0],[14.39,-16.6],
  [14.43,-4.0],[14.47,8.0],[14.51,14.0],[14.55,16.0],[14.60,10.0],[14.64,5.6],[14.68,12.0],[14.73,15.2],[14.77,4.0],[14.80,12.0],[14.83,18.0],[14.86,21.2],[14.90,10.0],
  [14.95,4.1],[15.00,12.0],[15.05,16.8],[15.09,8.0],[15.14,5.6],[15.18,-2.0],[15.21,-8.7],[15.24,6.0],[15.27,16.8],[15.31,2.0],[15.36,-15.0],[15.40,0.0],[15.45,8.8],
  [15.50,6.0],[15.55,9.0],[15.59,10.4],[15.64,4.0],[15.68,8.0],[15.73,2.0],[15.77,2.5],[15.82,5.0],[15.86,-1.0],[15.91,3.0],[15.95,0.1],[16.00,4.0],[16.05,-2.0],
  [16.10,3.0],[16.14,4.1],[16.20,-1.0],[16.25,3.0],[16.32,1.7],[16.38,-2.0],[16.44,3.0],[16.50,5.6],[16.55,0.0],[16.60,-6.0],[16.64,2.0],[16.68,-5.5],[16.72,-10.0],
  [16.76,-2.0],[16.82,-11.8],[16.85,-2.0],[16.88,-23.0],[16.92,-4.0],[16.96,5.0],[17.00,7.2],[17.05,-2.0],[17.09,9.6],[17.14,0.0],[17.18,-8.0],[17.23,-3.9],[17.28,4.0],
  [17.32,-6.0],[17.36,0.9],[17.41,-8.0],[17.45,-14.0],[17.50,-19.8],[17.54,-4.0],[17.59,2.5],[17.64,-8.0],[17.68,2.0],[17.73,-4.7],[17.77,-10.0],[17.82,-18.2],
  [17.86,-6.0],[17.91,2.5],[17.96,-4.0],[18.00,3.0],[18.05,-3.9],[18.10,0.0],[18.15,-5.0],[18.20,2.0],[18.23,1.7],[18.30,-3.0],[18.36,-1.0],[18.41,-4.7],[18.47,-1.0],
  [18.53,-3.0],[18.59,-0.7],[18.65,-2.0],[18.70,1.0],[18.77,-0.7],[18.84,-2.0],[18.90,1.0],[18.95,-1.0],[19.05,1.7],[19.20,0.5],[19.32,3.3],[19.45,0.5],[19.59,-2.3],
  [19.72,-0.5],[19.86,-1.5],[20.00,-5.2],[20.12,-2.0],[20.23,-0.7],[20.38,-2.5],[20.50,-4.2],[20.70,-1.5],[20.86,1.2],[21.00,0.0],[21.14,-0.7],[21.30,0.5],[21.50,-1.5],
  [21.70,0.5],[21.86,1.7],[22.00,0.0],[22.14,-1.0],[22.30,1.5],[22.50,3.3],[22.65,3.0],[22.77,4.8],[22.90,1.0],[23.00,-3.1],[23.10,-5.0],[23.18,-6.3],[23.30,-2.0],
  [23.41,2.5],[23.52,4.0],[23.64,6.4],[23.75,5.0],[23.86,8.0],[24.00,3.7]];

function toPoints(hours, values) {
  return hours.map(function (h, i) { return { x: h, y: values[i] }; });
}
function samplePoints(samples) {
  return samples.map(function (p) { return { x: p[0], y: p[1] }; })
                .sort(function (a, b) { return a.x - b.x; });
}

var FONT = '"Liberation Sans", Arial, Helvetica, sans-serif';

// draws frame, hour lines, reference lines, ticks and labels
var spaFrame = {
  id: 'spaFrame',
  beforeDatasetsDraw: function (chart) {
    var ctx = chart.ctx, a = chart.chartArea, s = chart.scales;
    ctx.save();
    ctx.lineWidth = 1;
    ctx.strokeStyle = '#000';
    ctx.setLineDash([7, 5]);
    for (var h = 1; h < 24; h++) {
      var px = Math.round(s.x.getPixelForValue(h)) + 0.5;
      ctx.beginPath(); ctx.moveTo(px, a.top); ctx.lineTo(px, a.bottom); ctx.stroke();
    }
    // dotted zero lines
    ctx.setLineDash([1, 3]);
    [['yEz', 0], ['yJz', 0], ['yNil', 0], ['yXY', 0]].forEach(function (r) {
      var py = Math.round(s[r[0]].getPixelForValue(r[1])) + 0.5;
      ctx.beginPath(); ctx.moveTo(a.left, py); ctx.lineTo(a.right, py); ctx.stroke();
    });
    ctx.setLineDash([]);
    // blue reference lines
    ctx.strokeStyle = '#0000ff';
    [['yEz', 1], ['yJz', 1]].forEach(function (r) {
      var py = Math.round(s[r[0]].getPixelForValue(r[1])) + 0.5;
      ctx.beginPath(); ctx.moveTo(a.left, py); ctx.lineTo(a.right, py); ctx.stroke();
    });
    // Bz zero line
    ctx.strokeStyle = '#000';
    var pz = Math.round(s.yBz.getPixelForValue(0)) + 0.5;
    ctx.beginPath(); ctx.moveTo(a.left, pz); ctx.lineTo(a.right, pz); ctx.stroke();
    ctx.restore();
  },
  beforeDatasetDraw: function (chart, args) {
    var ctx = chart.ctx, a = chart.chartArea, ys = args.meta.yScale;
    ctx.save();
    ctx.beginPath();
    ctx.rect(a.left, ys.top, a.right - a.left, ys.bottom - ys.top);
    ctx.clip();
  },
  afterDatasetDraw: function (chart) {
    chart.ctx.restore();
  },
  afterDraw: function (chart) {
    var ctx = chart.ctx, a = chart.chartArea, s = chart.scales;
    ctx.save();
    ctx.strokeStyle = '#000';
    ctx.lineWidth = 1;
    function hl(y, x0, x1) {
      y = Math.round(y) + 0.5;
      ctx.beginPath(); ctx.moveTo(x0, y); ctx.lineTo(x1, y); ctx.stroke();
    }
    function vl(x, y0, y1) {
      x = Math.round(x) + 0.5;
      ctx.beginPath(); ctx.moveTo(x, y0); ctx.lineTo(x, y1); ctx.stroke();
    }
    // outer frame
    vl(a.left, a.top, a.bottom + 7);
    vl(a.right - 1, a.top, a.bottom + 7);
    hl(s.yDen.top, a.left, a.right);
    hl(s.yDen.bottom, a.left, a.right);
    // density & Bz: inside ticks, 1 unit minor, 5 unit major
    ['yDen', 'yBz'].forEach(function (id) {
      var sc = s[id];
      for (var v = Math.ceil(sc.min); v <= Math.floor(sc.max); v++) {
        var len = (v % 5 === 0) ? 18 : 9;
        var py = sc.getPixelForValue(v);
        hl(py, a.left, a.left + len);
        hl(py, a.right - len, a.right);
      }
    });
    // lower panels: boundary lines and outward ticks
    var outTicks = { yEz: [-1.02, 0, 1, 2.04], yJz: [-1.05, 0, 1, 2.07], yNil: [-1, 0, 1], yXY: [-36, 0, 36] };
    Object.keys(outTicks).forEach(function (id) {
      var sc = s[id];
      outTicks[id].forEach(function (v) {
        var py = sc.getPixelForValue(v);
        hl(py, a.left - 8, a.left);
        hl(py, a.right, a.right + 8);
      });
      hl(sc.top, a.left, a.right);
      hl(sc.bottom, a.left, a.right);
    });
    hl(s.yBz.bottom, a.left - 8, a.right + 8);
    // minor UT ticks every 10 minutes
    for (var m = 1; m < 144; m++) {
      if (m % 6 === 0) continue;
      var px = s.x.getPixelForValue(m / 6);
      vl(px, a.bottom - 3, a.bottom);
    }
    // texts
    ctx.fillStyle = '#000';
    ctx.font = '15px ' + FONT;
    ctx.textAlign = 'left';
    ctx.textBaseline = 'alphabetic';
    ctx.fillText('1991 0521 (141) 00:00:00 SPA', 101, 20);
    ctx.font = '11px ' + FONT;
    ctx.textAlign = 'center';
    ctx.textBaseline = 'middle';
    ctx.fillText('UT', (a.left + a.right) / 2, 990);
    var side = [
      ['density,n/cc', 23, (s.yDen.top + s.yDen.bottom) / 2, '11px'],
      ['Bz,nT', 25, (s.yBz.top + s.yBz.bottom) / 2 + 1, '11px'],
      ['494 V/m', 34, 326, '14px'],
      ['3.8e-011 A/m^2', 34, 460, '14px'],
      ['72 nT', 34, 790, '14px'],
      ['EZ', 72, 409, '14px'],
      ['EZ', 72, 459, '14px'],
      ['JZ', 72, 562, '14px'],
      ['X,Y', 72, 896, '14px']
    ];
    side.forEach(function (t) {
      ctx.save();
      ctx.translate(t[1], t[2]);
      ctx.rotate(-Math.PI / 2);
      ctx.font = t[3] + ' ' + FONT;
      ctx.fillText(t[0], 0, 0);
      ctx.restore();
    });
    ctx.restore();
  }
};

function yScale(weight, min, max, ticks) {
  return {
    type: 'linear', position: 'left', stack: 'panels', stackWeight: 1, weight: weight,
    min: min, max: max,
    afterBuildTicks: function (sc) {
      sc.ticks = (ticks || []).map(function (v) { return { value: v }; });
    },
    afterFit: function (sc) { sc.width = 40; },
    ticks: {
      display: !!ticks, color: '#000', padding: 8,
      font: { family: FONT, size: 12, weight: 'bold' }
    },
    grid: { display: false, drawTicks: false },
    border: { display: false }
  };
}

var ctx = document.getElementById('spa').getContext('2d');
new Chart(ctx, {
  type: 'scatter',
  data: {
    datasets: [
      { label: 'density', data: toPoints(densHours, densValues), yAxisID: 'yDen',
        pointRadius: 5.2, pointBackgroundColor: '#000', pointBorderWidth: 0, showLine: false },
      { label: 'Bz', data: toPoints(bzHours, bzValues), yAxisID: 'yBz',
        pointRadius: 5.2, pointBackgroundColor: '#000', pointBorderWidth: 0, showLine: false },
      { label: 'EZ', data: samplePoints(ezSamples), yAxisID: 'yEz', showLine: true,
        pointRadius: 0, borderColor: '#000', borderWidth: 1.3, tension: 0 },
      { label: 'JZ', data: samplePoints(jzSamples), yAxisID: 'yJz', showLine: true,
        pointRadius: 0, borderColor: '#000', borderWidth: 1.5, tension: 0 },
      { label: 'Y', data: samplePoints(bySamples), yAxisID: 'yXY', showLine: true,
        pointRadius: 0, borderColor: '#0000ff', borderWidth: 1.8, tension: 0 },
      { label: 'X', data: samplePoints(bxSamples), yAxisID: 'yXY', showLine: true,
        pointRadius: 0, borderColor: '#000', borderWidth: 1.6, tension: 0 }
    ]
  },
  options: {
    responsive: false,
    animation: false,
    devicePixelRatio: 1,
    events: [],
    layout: { autoPadding: false, padding: { left: 20, right: 60, top: 44, bottom: 0 } },
    plugins: { legend: { display: false }, tooltip: { enabled: false } },
    scales: {
      x: {
        type: 'linear', position: 'bottom', min: 0, max: 24,
        afterBuildTicks: function (sc) {
          sc.ticks = hourLabels.map(function (l, i) { return { value: i }; });
        },
        afterFit: function (sc) { sc.height = 46; },
        ticks: {
          autoSkip: false, maxRotation: 0, padding: 10, color: '#000',
          font: { family: FONT, size: 11, weight: 'bold' },
          callback: function (v) { return hourLabels[v]; }
        },
        grid: { display: false, drawTicks: false },
        border: { display: false }
      },
      yDen: yScale(6, 7.76, 28.87, densTicks),
      yBz: yScale(5, -7.1, 13.8, bzTicks),
      yEz: yScale(4, -1.02, 2.04, null),
      yJz: yScale(3, -1.05, 2.07, null),
      yNil: yScale(2, -1, 1, null),
      yXY: yScale(1, -36, 36, null)
    }
  },
  plugins: [spaFrame]
});
</script>
</body>
</html>
